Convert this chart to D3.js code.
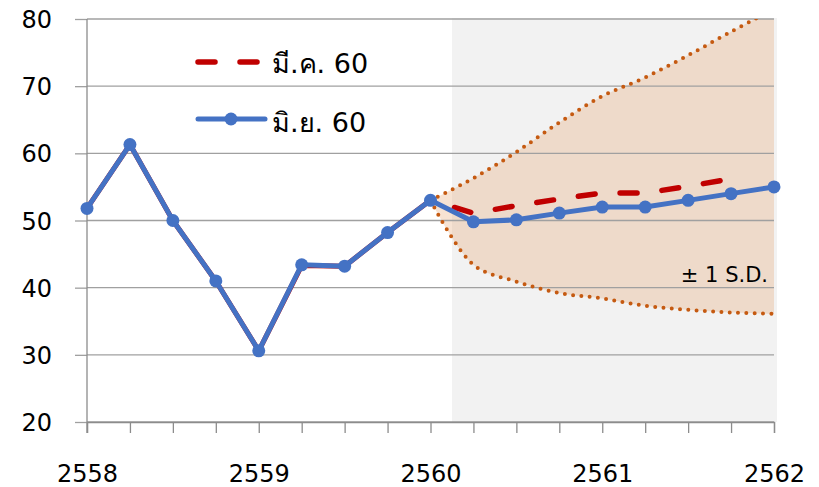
<!DOCTYPE html>
<html>
<head>
<meta charset="utf-8">
<script src="https://cdn.jsdelivr.net/npm/d3@7"></script>
<style>
	body { margin: 0; background: #fff; }
	text { font-family: 'DejaVu Sans', 'Noto Sans', sans-serif; fill: #000; }
</style>
</head>
<body>
<div id="chart"></div>
<script>
// quarters from 2558 to 2562 (index 0..16)
var yearLabels = ['2558', '2559', '2560', '2561', '2562'];
var seriesNames = ['มี.ค. 60', 'มิ.ย. 60'];

// forecast Mar 60 (red dashed), index 0..15
var marValues = [51.8, 61.3, 50.0, 41.0, 30.6, 43.3, 43.2, 48.2, 53.0, 51.1, 52.2, 53.2, 54.1, 54.1, 55.1, 56.2];
// forecast Jun 60 (blue with markers), index 0..16
var junValues = [51.8, 61.3, 50.0, 41.0, 30.6, 43.4, 43.2, 48.2, 53.0, 49.8, 50.1, 51.1, 52.0, 52.0, 53.0, 54.0, 55.0];

// +-1 S.D. band, index 8..16
var bandStart = 8;
var bandUpper = [53.0, 56.3, 60.2, 64.6, 68.5, 71.3, 74.6, 78.1, 81.5];
var bandLower = [53.0, 43.4, 40.9, 39.2, 38.4, 37.3, 36.7, 36.3, 36.1];

var yTicks = [20, 30, 40, 50, 60, 70, 80];

var svgWidth = 819;
var svgHeight = 487;

var svg = d3.select('#chart')
	.append('svg')
	.attr('width', svgWidth)
	.attr('height', svgHeight);

var x = d3.scaleLinear().domain([0, 16]).range([87, 774]);
var y = d3.scaleLinear().domain([20, 80]).range([422, 19]);

//clip for the band
svg.append('clipPath')
	.attr('id', 'plotClip')
	.append('rect')
	.attr('x', 0)
	.attr('y', y(80))
	.attr('width', svgWidth)
	.attr('height', y(20) - y(80));

//grey forecast background
svg.append('rect')
	.attr('x', x(8.5))
	.attr('y', y(80) - 1)
	.attr('width', x(16) + 3 - x(8.5))
	.attr('height', y(20) - y(80) + 1)
	.style('fill', '#f2f2f2');

//shaded band
var bandData = bandUpper.map(function(u, i) {
	return { i: bandStart + i, hi: u, lo: bandLower[i] };
});

var area = d3.area()
	.x(function(d) { return x(d.i); })
	.y0(function(d) { return y(d.lo); })
	.y1(function(d) { return y(d.hi); })
	.curve(d3.curveCatmullRom);

svg.append('path')
	.datum(bandData)
	.attr('d', area)
	.attr('clip-path', 'url(#plotClip)')
	.style('fill', 'rgb(229,162,109)')
	.style('fill-opacity', 0.3);

//grid lines
svg.append('g')
	.selectAll('line')
	.data(yTicks)
	.enter()
	.append('line')
	.attr('x1', x(0))
	.attr('x2', x(16))
	.attr('y1', function(d) { return y(d); })
	.attr('y2', function(d) { return y(d); })
	.style('stroke', '#a0a0a0')
	.style('stroke-width', 1.3);

//band edges (dotted)
var edge = function(key) {
	return d3.line()
		.x(function(d) { return x(d.i); })
		.y(function(d) { return y(d[key]); })
		.curve(d3.curveCatmullRom);
};

['hi', 'lo'].forEach(function(k) {
	svg.append('path')
		.datum(bandData)
		.attr('d', edge(k))
		.attr('clip-path', 'url(#plotClip)')
		.style('fill', 'none')
		.style('stroke', '#C55A11')
		.style('stroke-width', 4)
		.style('stroke-linecap', 'round')
		.style('stroke-dasharray', '0,8.3');
});

//y axis
var yAxis = svg.append('g')
	.attr('transform', 'translate(' + x(0) + ',0)')
	.call(d3.axisLeft(y).tickValues(yTicks).tickSize(12).tickPadding(23).tickFormat(d3.format('d')));
yAxis.select('.domain').remove();
yAxis.selectAll('line').style('stroke', '#a0a0a0').style('stroke-width', 1.3);
yAxis.selectAll('text').style('font-size', '24px').attr('dy', '0.36em').style('font-family', "'DejaVu Sans', sans-serif");

svg.append('line')
	.attr('x1', x(0)).attr('x2', x(0))
	.attr('y1', y(80)).attr('y2', y(20) + 11)
	.style('stroke', '#8c8c8c')
	.style('stroke-width', 1.3);

//x axis
var xAxis = svg.append('g')
	.attr('transform', 'translate(0,' + y(20) + ')')
	.call(d3.axisBottom(x).tickValues(d3.range(17)).tickSize(11).tickFormat(function(d) {
		return d % 4 === 0 ? yearLabels[d / 4] : '';
	}));
xAxis.select('.domain').style('stroke', '#8c8c8c').style('stroke-width', 1.3);
xAxis.selectAll('line').style('stroke', '#8c8c8c').style('stroke-width', 1.3);
xAxis.selectAll('text')
	.attr('y', 60)
	.attr('dy', 0)
	.style('font-size', '24px')
	.style('font-family', "'DejaVu Sans', sans-serif");

//lines
var line = d3.line()
	.x(function(d, i) { return x(i); })
	.y(function(d) { return y(d); });

//red: history solid (hidden under blue), forecast dashed
svg.append('path')
	.datum(marValues.slice(0, 9))
	.attr('d', line)
	.style('fill', 'none')
	.style('stroke', '#C00000')
	.style('stroke-width', 5)
	.style('stroke-linejoin', 'round');

var lineFrom = function(start) {
	return d3.line()
		.x(function(d, i) { return x(i + start); })
		.y(function(d) { return y(d); });
};

svg.append('path')
	.datum(marValues.slice(8))
	.attr('d', lineFrom(8))
	.style('fill', 'none')
	.style('stroke', '#C00000')
	.style('stroke-width', 5.5)
	.style('stroke-linecap', 'round')
	.style('stroke-dasharray', '17,25')
	.style('stroke-dashoffset', 17);

svg.append('path')
	.datum(junValues)
	.attr('d', line)
	.style('fill', 'none')
	.style('stroke', '#4472C4')
	.style('stroke-width', 5)
	.style('stroke-linejoin', 'round');

svg.append('g')
	.selectAll('circle')
	.data(junValues)
	.enter()
	.append('circle')
	.attr('cx', function(d, i) { return x(i); })
	.attr('cy', function(d) { return y(d); })
	.attr('r', 6.5)
	.style('fill', '#4472C4');

//band label
svg.append('text')
	.attr('x', 768)
	.attr('y', 282)
	.style('text-anchor', 'end')
	.style('font-size', '21px')
	.text('± 1 S.D.');

//legend
var legend = svg.append('g');

legend.append('line')
	.attr('x1', 198).attr('x2', 262)
	.attr('y1', 62).attr('y2', 62)
	.style('stroke', '#C00000')
	.style('stroke-width', 5.5)
	.style('stroke-linecap', 'round')
	.style('stroke-dasharray', '17,25');

legend.append('line')
	.attr('x1', 198).attr('x2', 265)
	.attr('y1', 119).attr('y2', 119)
	.style('stroke', '#4472C4')
	.style('stroke-width', 5)
	.style('stroke-linecap', 'round');

legend.append('circle')
	.attr('cx', 231).attr('cy', 119)
	.attr('r', 6.5)
	.style('fill', '#4472C4');

legend.selectAll('text.leg')
	.data(seriesNames)
	.enter()
	.append('text')
	.attr('class', 'leg')
	.attr('x', 272)
	.attr('y', function(d, i) { return 73 + i * 59; })
	.style('font-size', '27px')
	.text(function(d) { return d; });
</script>
</body>
</html>
